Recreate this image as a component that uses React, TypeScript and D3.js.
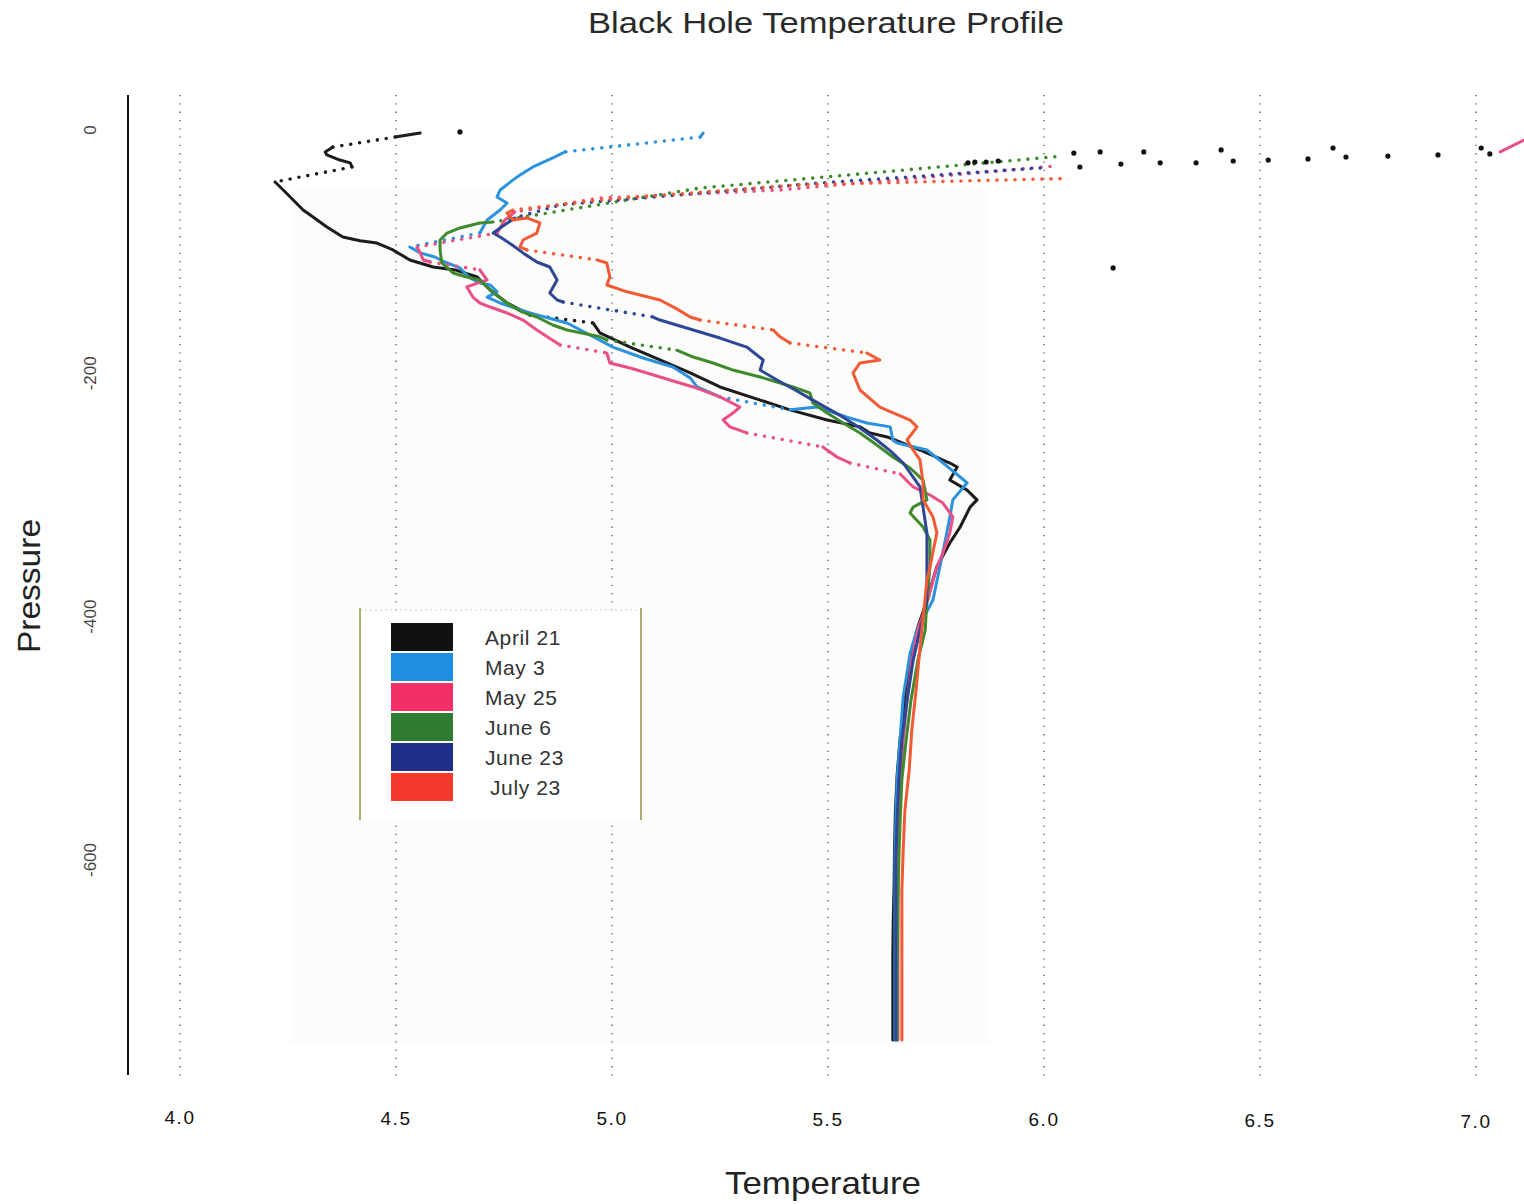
import React from "react";
import * as d3 from "d3";

type Pt = [number, number] | null;

// temperature / pressure readings per cast (null = gap between recorded runs)
const april21: Pt[] = [
  [4.556, -2.5], [4.498, -5.8], [4.354, -14], [4.336, -18], [4.34, -20.5], [4.37, -24.7],
  [4.394, -27], [4.398, -30.4], [4.22, -42.7], [4.239, -49.3], [4.262, -57.5], [4.285, -65.8],
  [4.308, -71.5], [4.34, -79.7], [4.377, -88], [4.417, -91], [4.456, -92.9], [4.493, -98.6],
  [4.532, -106.8], [4.586, -112.6], [4.637, -115], [4.688, -120.8], [4.718, -131.5],
  [4.757, -142.2], [4.81, -152], [4.956, -158.6], [4.972, -166.8], [5.042, -178.4],
  [5.111, -189], [5.181, -199.7], [5.25, -211.2], [5.343, -222], [5.412, -230], [5.498, -238.4],
  [5.574, -244], [5.597, -249], [5.637, -252.3], [5.713, -263], [5.782, -273.7], [5.799, -277],
  [5.782, -287.7], [5.822, -296], [5.845, -304], [5.829, -309.9], [5.806, -326.3],
  [5.782, -339.4], [5.752, -359], [5.729, -386.3], [5.706, -411], [5.69, -436], [5.678, -469],
  [5.667, -500], [5.66, -530], [5.656, -560], [5.654, -590], [5.653, -620], [5.651, -650],
  [5.65, -680], [5.65, -710], [5.65, -740], [5.65, -748],
];

const april21Surface: [number, number][] = [
  [4.648, -1.6], [5.824, -27], [5.84, -26.3], [5.866, -26.3], [5.894, -25.5], [6.069, -19],
  [6.083, -30.4], [6.13, -18], [6.178, -28], [6.231, -18], [6.269, -27], [6.352, -27],
  [6.41, -16.4], [6.438, -25.5], [6.519, -24.7], [6.611, -23.8], [6.669, -14.8], [6.699, -22.2],
  [6.796, -21.4], [6.912, -20.5], [7.012, -14.8], [7.032, -19.7], [6.16, -113.4],
];

const may3: Pt[] = [
  [5.211, -2.5], [5.204, -5.8], [4.891, -18], [4.863, -23], [4.817, -30.4], [4.787, -37],
  [4.771, -41], [4.741, -49.3], [4.734, -55], [4.757, -60], [4.741, -65.8], [4.711, -74],
  [4.694, -84.7], [4.532, -96.2], [4.556, -101], [4.59, -104.4], [4.613, -108.5],
  [4.648, -113.4], [4.671, -121.6], [4.694, -125.7], [4.718, -127.4], [4.734, -133],
  [4.711, -137.3], [4.741, -142.2], [4.81, -150.4], [4.896, -158.6], [4.949, -168.5],
  [5.002, -178.4], [5.072, -187.4], [5.141, -194.8], [5.181, -203.8], [5.197, -211.2],
  [5.25, -219.4], [5.412, -230], [5.475, -227.7], [5.544, -236], [5.59, -240.8], [5.644, -244],
  [5.65, -254.8], [5.66, -257.3], [5.729, -263], [5.771, -275], [5.806, -285.2], [5.822, -290],
  [5.789, -304], [5.782, -318], [5.775, -331.2], [5.759, -359], [5.743, -386.3], [5.706, -411],
  [5.69, -430], [5.674, -466], [5.667, -501], [5.66, -534], [5.657, -567], [5.655, -600],
  [5.655, -633], [5.655, -666], [5.655, -699], [5.655, -732], [5.655, -748],
];

const may25: Pt[] = [
  [7.111, -8.2], [7.056, -18], null,
  [6.014, -30], [5.389, -49.3], [4.972, -56], [4.775, -67.4], [4.752, -74], [4.741, -80.5],
  [4.734, -84.7], [4.549, -96.2], [4.556, -101], [4.563, -106.8], [4.579, -108.5],
  [4.694, -115], [4.711, -123.3], [4.69, -125.7], [4.664, -129], [4.678, -137.3],
  [4.694, -142.2], [4.718, -145.5], [4.757, -150.4], [4.794, -156.2], [4.826, -164.4],
  [4.85, -170], [4.88, -176.7], [4.988, -183.3], [4.995, -191.5], [5.042, -195.6],
  [5.081, -199.7], [5.134, -205.5], [5.188, -211.2], [5.25, -219.4], [5.296, -227.7],
  [5.28, -232.6], [5.257, -238.4], [5.273, -244], [5.312, -249], [5.488, -260.5],
  [5.521, -268.8], [5.551, -273.7], [5.667, -282.7], [5.697, -293.4], [5.736, -300],
  [5.766, -306.6], [5.789, -318], [5.782, -331.2], [5.766, -347.7], [5.752, -359],
  [5.731, -386.3], [5.708, -411], [5.694, -436], [5.683, -469], [5.674, -501], [5.667, -534],
  [5.664, -567], [5.662, -600], [5.662, -633], [5.662, -666], [5.662, -699], [5.662, -732],
  [5.662, -748],
];

const june6: Pt[] = [
  [6.025, -22], [5.204, -47.7], [4.725, -75.6], [4.694, -76.4], [4.648, -80.5],
  [4.618, -84.7], [4.602, -90.4], [4.602, -98.6], [4.606, -109.3], [4.632, -117.5],
  [4.664, -120.8], [4.694, -123.3], [4.718, -131.5], [4.757, -142.2], [4.787, -148.8],
  [4.826, -153.7], [4.863, -160.3], [4.896, -164.4], [4.972, -170], [4.988, -172.6],
  [5.15, -181], [5.188, -186.6], [5.234, -191.5], [5.28, -197.3], [5.343, -203],
  [5.419, -211.2], [5.458, -216], [5.465, -224.4], [5.498, -232.6], [5.535, -240.8],
  [5.574, -249], [5.613, -258.9], [5.65, -268.8], [5.69, -277.8], [5.72, -287.7],
  [5.729, -304], [5.697, -309.9], [5.69, -314.8], [5.72, -326.3], [5.736, -337], [5.736, -359],
  [5.729, -386.3], [5.725, -411], [5.708, -436], [5.692, -469], [5.681, -501], [5.671, -534],
  [5.667, -567], [5.664, -600], [5.662, -633], [5.661, -666], [5.66, -699], [5.66, -732],
  [5.66, -748],
];

const june23: Pt[] = [
  [5.991, -31.2], [5.481, -43.6], [4.88, -61.6], [4.775, -72.3], [4.741, -80.5],
  [4.725, -84.7], [4.741, -88], [4.769, -94.5], [4.794, -101], [4.826, -108.5],
  [4.856, -112.6], [4.873, -123.3], [4.856, -134], [4.873, -139.7], [4.887, -141.4],
  [5.095, -153.7], [5.111, -156.2], [5.188, -164.4], [5.25, -171], [5.312, -178.4],
  [5.35, -189], [5.343, -197.3], [5.382, -205.5], [5.424, -213.7], [5.465, -222],
  [5.535, -236], [5.574, -245], [5.613, -254.8], [5.645, -264], [5.674, -273.7],
  [5.713, -293.4], [5.72, -309.9], [5.729, -331.2], [5.729, -359], [5.729, -386.3],
  [5.713, -411], [5.697, -436], [5.683, -469], [5.671, -501], [5.664, -534], [5.66, -567],
  [5.657, -600], [5.657, -633], [5.657, -666], [5.657, -699], [5.657, -732], [5.657, -748],
];

const july23: Pt[] = [
  [6.037, -40], [5.435, -45], [4.972, -57.5], [4.771, -65.8], [4.757, -68.2], [4.771, -74],
  [4.803, -72.3], [4.833, -76.4], [4.826, -84.7], [4.794, -90.4], [4.787, -96.2],
  [4.803, -98.6], [4.965, -106.8], [4.988, -109.3], [4.995, -120.8], [4.988, -127.4],
  [5.035, -133], [5.111, -139.7], [5.15, -147], [5.181, -153.7], [5.204, -156.2],
  [5.373, -164.4], [5.389, -170], [5.412, -175], [5.59, -183.3], [5.62, -189], [5.574, -191.5],
  [5.558, -199.7], [5.574, -213.7], [5.62, -227.7], [5.69, -238.4], [5.706, -244],
  [5.683, -254.8], [5.697, -263], [5.713, -271.2], [5.72, -290], [5.72, -304], [5.743, -318],
  [5.752, -331.2], [5.736, -359], [5.729, -370], [5.722, -395], [5.713, -425], [5.704, -460],
  [5.694, -493], [5.688, -526], [5.678, -559], [5.674, -592], [5.671, -625], [5.671, -658],
  [5.671, -691], [5.671, -724], [5.671, -748],
];

const seriesLabels = ["April 21", "May 3", "May 25", "June 6", "June 23", "July 23"];
const seriesData = [april21, may3, may25, june6, june23, july23];
const lineColors = ["#1c1c1c", "#2b92de", "#ea4f86", "#3f8a2c", "#2d4796", "#f25a36"];
const legendColors = ["#111111", "#1d8ee0", "#f22f66", "#2f7d32", "#1d2f86", "#f7392d"];

const xTicks = [4.0, 4.5, 5.0, 5.5, 6.0, 6.5, 7.0];
const yTicks = [0, -200, -400, -600];

const width = 1524;
const height = 1204;

const x = d3.scaleLinear().domain([4, 7]).range([180, 1476]);
const y = d3.scaleLinear().domain([0, -600]).range([130, 860]);

// sparse readings (far apart on screen) show up as dotted runs
function splitRuns(pts: Pt[]) {
  const runs: { dotted: boolean; pts: [number, number][] }[] = [];
  let cur: { dotted: boolean; pts: [number, number][] } | null = null;
  for (let i = 1; i < pts.length; i++) {
    const a = pts[i - 1];
    const b = pts[i];
    if (!a || !b) {
      cur = null;
      continue;
    }
    const d = Math.hypot(x(b[0]) - x(a[0]), y(b[1]) - y(a[1]));
    const dotted = d > 45;
    if (cur && cur.dotted === dotted) {
      cur.pts.push(b);
    } else {
      cur = { dotted, pts: [a, b] };
      runs.push(cur);
    }
  }
  return runs;
}

const line = d3
  .line<[number, number]>()
  .x((d) => x(d[0]))
  .y((d) => y(d[1]));

export default function App() {
  const font = "'Liberation Sans', Arial, Helvetica, sans-serif";
  return (
    <svg
      width={width}
      height={height}
      style={{ position: "absolute", left: 0, top: 0, background: "#fff" }}
      fontFamily={font}
    >
      <rect x={290} y={190} width={700} height={855} fill="#fcfcfb" />

      {/* vertical dotted grid */}
      {xTicks.map((t) => (
        <line
          key={t}
          x1={x(t)}
          x2={x(t)}
          y1={95}
          y2={1080}
          stroke="#555"
          strokeWidth={1.3}
          strokeDasharray="1.3 7"
        />
      ))}

      {/* y axis */}
      <line x1={128} x2={128} y1={95} y2={1075} stroke="#111" strokeWidth={2} />
      {yTicks.map((t) => (
        <text
          key={t}
          transform={`translate(96,${y(t)}) rotate(-90)`}
          textAnchor="middle"
          fontSize={17}
          fill="#444"
        >
          {t}
        </text>
      ))}

      {xTicks.map((t, i) => (
        <text
          key={t}
          x={x(t)}
          y={1124 + i * 0.6}
          textAnchor="middle"
          fontSize={19}
          fill="#111"
          letterSpacing={1.5}
        >
          {t.toFixed(1)}
        </text>
      ))}

      <text x={826} y={33} textAnchor="middle" fontSize={30} fill="#2a2a2a" textLength={476} lengthAdjust="spacingAndGlyphs">
        Black Hole Temperature Profile
      </text>
      <text x={823} y={1194} textAnchor="middle" fontSize={32} fill="#222" textLength={196} lengthAdjust="spacingAndGlyphs">
        Temperature
      </text>
      <text
        transform="translate(40,586) rotate(-90)"
        textAnchor="middle"
        fontSize={32}
        fill="#222"
        textLength={134}
        lengthAdjust="spacingAndGlyphs"
      >
        Pressure
      </text>

      {/* profiles */}
      {seriesData.map((s, si) =>
        splitRuns(s).map((r, ri) => (
          <path
            key={`${si}-${ri}`}
            d={line(r.pts) || ""}
            fill="none"
            stroke={lineColors[si]}
            strokeWidth={r.dotted ? 3.6 : 3}
            strokeLinecap="round"
            strokeLinejoin="round"
            strokeDasharray={r.dotted ? "0 9" : undefined}
          />
        ))
      )}
      {april21Surface.map((d, i) => (
        <circle key={i} cx={x(d[0])} cy={y(d[1])} r={2.6} fill="#111" />
      ))}

      {/* legend */}
      <g>
        <rect x={360} y={610} width={281} height={210} fill="#fff" />
        <line x1={360} x2={641} y1={610} y2={610} stroke="#ccc" strokeWidth={1} strokeDasharray="2 3" />
        <line x1={360} x2={360} y1={608} y2={820} stroke="#9c9550" strokeWidth={1.6} />
        <line x1={641} x2={641} y1={608} y2={820} stroke="#9c9550" strokeWidth={1.6} />
        {seriesLabels.map((lab, i) => (
          <g key={lab}>
            <rect x={391} y={623 + i * 30} width={62} height={28} fill={legendColors[i]} />
            <text x={i === 5 ? 490 : 485} y={645 + i * 30} fontSize={21} fill="#333" letterSpacing={0.6}>
              {lab}
            </text>
          </g>
        ))}
      </g>
    </svg>
  );
}
